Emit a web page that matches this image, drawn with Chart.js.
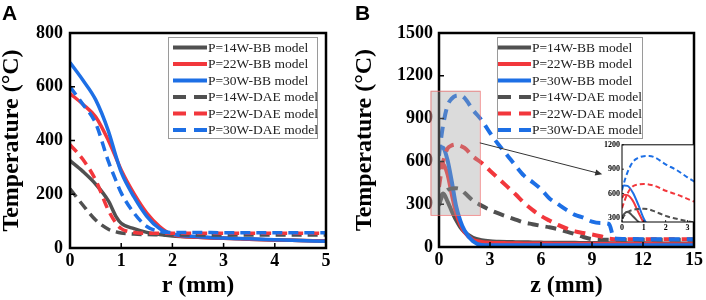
<!DOCTYPE html>
<html>
<head>
<meta charset="utf-8">
<script src="https://cdn.jsdelivr.net/npm/chart.js@4.4.1/dist/chart.umd.min.js"></script>
<style>
  body { margin: 0; background: #fff; width: 706px; height: 300px; position: relative; overflow: hidden; }
  canvas { position: absolute; }
  .tag { position: absolute; font: bold 21px 'Liberation Sans', Arial, sans-serif; line-height: 21px; color: #000; }
</style>
</head>
<body>
<canvas id="chartA" width="353" height="300" style="left:0;top:0"></canvas>
<canvas id="chartB" width="353" height="300" style="left:353px;top:0"></canvas>
<canvas id="inset" width="104" height="98" style="left:595px;top:138px"></canvas>
<div class="tag" style="left:2px;top:2px">A</div>
<div class="tag" style="left:355px;top:2px">B</div>
<script>
// ---- panel A: temperature vs r ----
const rA = [0, 0.25, 0.5, 0.75, 0.9, 1, 1.25, 1.5, 1.75, 2, 2.5, 3, 3.5, 4, 4.5, 5];
const a14BB = [325, 285, 238, 175, 117, 92, 72, 58, 50, 45, 40, 36, 33, 30, 28, 26];
const a22BB = [575, 535, 488, 400, 335, 290, 202, 130, 80, 50, 40, 36, 33, 30, 28, 26];
const a30BB = [690, 625, 552, 435, 340, 282, 190, 118, 72, 52, 42, 37, 34, 31, 28, 25];
const a14DAE = [220, 160, 104, 70, 60, 56, 52, 50, 49, 48, 48, 48, 48, 48, 48, 48];
const a22DAE = [385, 330, 253, 140, 92, 72, 58, 55, 55, 55, 55, 55, 55, 55, 55, 55];
const a30DAE = [600, 535, 465, 322, 250, 205, 130, 80, 62, 58, 58, 57, 57, 57, 57, 57];
const rTicks = [0, 1, 2, 3, 4, 5];
const tTicksA = [0, 200, 400, 600, 800];

// ---- panel B: temperature vs z ----
const zB = [0, 0.1, 0.25, 0.5, 0.75, 1, 1.25, 1.5, 2, 2.5, 3, 3.5, 4, 4.5, 5, 5.5, 6, 6.5, 7, 7.5, 8, 8.5, 9, 9.5, 10, 10.3, 11, 12, 13, 14, 15];
const b14BB = [310, 350, 375, 320, 252, 190, 140, 105, 65, 48, 40, 37, 35, 34, 33, 32, 31, 30, 30, 29, 29, 28, 28, 27, 27, 27, 26, 26, 25, 25, 25];
const b22BB = [545, 585, 580, 510, 370, 240, 160, 105, 50, 36, 30, 28, 27, 26, 25, 25, 24, 24, 23, 23, 23, 22, 22, 22, 22, 22, 21, 21, 20, 20, 20];
const b30BB = [690, 700, 695, 610, 460, 290, 185, 115, 40, 14, 12, 12, 12, 12, 12, 12, 12, 12, 12, 12, 12, 12, 12, 12, 12, 12, 12, 12, 12, 12, 12];
const b14DAE = [290, 330, 370, 400, 410, 412, 405, 380, 325, 290, 260, 235, 213, 192, 172, 160, 148, 138, 125, 108, 90, 70, 55, 50, 50, 50, 50, 50, 50, 50, 50];
const b22DAE = [420, 500, 600, 690, 712, 718, 710, 695, 635, 590, 535, 480, 425, 370, 310, 260, 218, 185, 155, 130, 110, 98, 88, 75, 58, 55, 55, 55, 55, 55, 55];
const b30DAE = [640, 740, 860, 990, 1040, 1060, 1062, 1045, 960, 890, 800, 718, 645, 570, 500, 455, 405, 340, 300, 260, 225, 205, 178, 168, 162, 60, 56, 55, 55, 55, 55];
const zTicks = [0, 3, 6, 9, 12, 15];
const tTicksB = [0, 300, 600, 900, 1200, 1500];

// inset
const zTicksIn = [0, 1, 2, 3];
const tTicksIn = [300, 600, 900, 1200];

// zoomed region marked in panel B, and arrow to the inset (data units)
const zoomBoxZ = [-0.5, 2.4];
const zoomBoxT = [225, 1095];
const arrowFrom = [2.4, 730];
const arrowTo = [9.6, 510];

const labels = ['P=14W-BB model', 'P=22W-BB model', 'P=30W-BB model',
                'P=14W-DAE model', 'P=22W-DAE model', 'P=30W-DAE model'];
const colors = ['#505050', '#f2373c', '#1d6fe5'];
const serif = "'Liberation Serif', 'Times New Roman', serif";

function makeSets(xs, series, lw, dash) {
  return series.map((vals, i) => ({
    label: labels[i],
    data: vals.map((v, j) => ({ x: xs[j], y: v })),
    borderColor: colors[i % 3],
    borderWidth: lw,
    borderDash: i < 3 ? [] : dash,
    borderCapStyle: 'butt',
    pointRadius: 0,
    fill: false,
    cubicInterpolationMode: 'monotone',
    order: 5 - i
  }));
}

function axis(opts) {
  return {
    type: 'linear',
    position: opts.pos,
    min: opts.min,
    max: opts.max,
    afterBuildTicks: s => { s.ticks = opts.ticks.map(v => ({ value: v })); },
    afterFit: s => { if (opts.pos === 'left') s.width = opts.fit; else s.height = opts.fit; },
    grid: { display: false, drawTicks: false },
    border: { display: false },
    ticks: {
      color: '#000', padding: opts.pad, maxRotation: 0, autoSkip: false,
      callback: v => String(v),
      font: { family: serif, size: opts.fs, weight: 'bold' }
    },
    title: opts.title ? {
      display: true, text: opts.title, color: '#000',
      font: { family: serif, size: 24, weight: 'bold', lineHeight: 1 },
      padding: opts.tpad
    } : { display: false }
  };
}

function framePlugin(lw, tlw, tickLen) {
  return {
    id: 'frame',
    afterDatasetsDraw(chart) {
      const { ctx, chartArea: a, scales: { x, y } } = chart;
      ctx.save();
      ctx.setLineDash([]);
      ctx.strokeStyle = '#000';
      ctx.lineWidth = tlw;
      ctx.beginPath();
      x.ticks.forEach(t => {
        const px = x.getPixelForValue(t.value);
        ctx.moveTo(px, a.bottom); ctx.lineTo(px, a.bottom - tickLen);
      });
      y.ticks.forEach(t => {
        const py = y.getPixelForValue(t.value);
        ctx.moveTo(a.left, py); ctx.lineTo(a.left + tickLen, py);
      });
      ctx.stroke();
      ctx.lineWidth = lw;
      ctx.strokeRect(a.left, a.top, a.right - a.left, a.bottom - a.top);
      ctx.restore();
    }
  };
}

function legendPlugin(box) {
  return {
    id: 'boxLegend',
    afterDraw(chart) {
      const ctx = chart.ctx;
      ctx.save();
      ctx.fillStyle = '#fff';
      ctx.fillRect(box.x, box.y, box.w, box.h);
      ctx.strokeStyle = '#9a9a9a';
      ctx.lineWidth = 1;
      ctx.strokeRect(box.x + 0.5, box.y + 0.5, box.w, box.h);
      ctx.font = `13.5px ${serif}`;
      ctx.textBaseline = 'middle';
      chart.data.datasets.forEach((ds, i) => {
        const yy = box.y + box.first + i * box.row;
        ctx.strokeStyle = ds.borderColor;
        ctx.lineWidth = 4;
        ctx.setLineDash(i < 3 ? [] : [13, 8]);
        ctx.beginPath();
        ctx.moveTo(box.x + box.s0, yy);
        ctx.lineTo(box.x + box.s1, yy);
        ctx.stroke();
        ctx.setLineDash([]);
        ctx.fillStyle = '#222';
        ctx.fillText(ds.label, box.x + box.s1 + 1, yy + 0.5);
      });
      ctx.restore();
    }
  };
}

const zoomMark = {
  id: 'zoomMark',
  afterDraw(chart) {
    const { ctx, scales: { x, y } } = chart;
    const x0 = x.getPixelForValue(zoomBoxZ[0]), x1 = x.getPixelForValue(zoomBoxZ[1]);
    const y0 = y.getPixelForValue(zoomBoxT[1]), y1 = y.getPixelForValue(zoomBoxT[0]);
    ctx.save();
    ctx.fillStyle = 'rgba(160,160,160,0.38)';
    ctx.fillRect(x0, y0, x1 - x0, y1 - y0);
    ctx.strokeStyle = 'rgba(235,110,110,0.75)';
    ctx.lineWidth = 1;
    ctx.strokeRect(x0 + 0.5, y0 + 0.5, x1 - x0, y1 - y0);
    // arrow
    const ax = x.getPixelForValue(arrowFrom[0]), ay = y.getPixelForValue(arrowFrom[1]);
    const bx = x.getPixelForValue(arrowTo[0]), by = y.getPixelForValue(arrowTo[1]);
    const ang = Math.atan2(by - ay, bx - ax);
    ctx.strokeStyle = '#333';
    ctx.fillStyle = '#333';
    ctx.beginPath();
    ctx.moveTo(ax, ay);
    ctx.lineTo(bx - 5 * Math.cos(ang), by - 5 * Math.sin(ang));
    ctx.stroke();
    ctx.beginPath();
    ctx.moveTo(bx, by);
    ctx.lineTo(bx - 7 * Math.cos(ang) + 3 * Math.sin(ang), by - 7 * Math.sin(ang) - 3 * Math.cos(ang));
    ctx.lineTo(bx - 7 * Math.cos(ang) - 3 * Math.sin(ang), by - 7 * Math.sin(ang) + 3 * Math.cos(ang));
    ctx.closePath();
    ctx.fill();
    ctx.restore();
  }
};

const whiteArea = {
  id: 'whiteArea',
  beforeDatasetsDraw(chart) {
    const { ctx, chartArea: a } = chart;
    ctx.save();
    ctx.fillStyle = '#fff';
    ctx.fillRect(a.left, a.top, a.right - a.left, a.bottom - a.top);
    ctx.restore();
  }
};

const base = { responsive: false, animation: false, events: [],
  plugins: { legend: { display: false }, tooltip: { enabled: false } } };

new Chart(document.getElementById('chartA'), {
  type: 'line',
  data: { datasets: makeSets(rA, [a14BB, a22BB, a30BB, a14DAE, a22DAE, a30DAE], 3.5, [10, 6]) },
  options: {
    ...base,
    layout: { padding: { top: 33, right: 27, left: 0, bottom: 0 } },
    scales: {
      x: axis({ pos: 'bottom', min: 0, max: 5, ticks: rTicks, fit: 52, pad: 3, fs: 18, title: 'r (mm)', tpad: { top: 0, bottom: 2 } }),
      y: axis({ pos: 'left', min: 0, max: 800, ticks: tTicksA, fit: 70, pad: 7, fs: 18, title: 'Temperature (°C)', tpad: { top: 0, bottom: 0 } })
    }
  },
  plugins: [framePlugin(2.5, 1.5, 5), legendPlugin({ x: 168, y: 37, w: 149, h: 101, first: 10.5, row: 16.5, s0: 5, s1: 39 })]
});

new Chart(document.getElementById('chartB'), {
  type: 'line',
  data: { datasets: makeSets(zB, [b14BB, b22BB, b30BB, b14DAE, b22DAE, b30DAE], 4, [11, 7]) },
  options: {
    ...base,
    layout: { padding: { top: 33, right: 10, left: 0, bottom: 0 } },
    scales: {
      x: axis({ pos: 'bottom', min: 0, max: 15, ticks: zTicks, fit: 53, pad: 3, fs: 18, title: 'z (mm)', tpad: { top: 0, bottom: 2 } }),
      y: axis({ pos: 'left', min: 0, max: 1500, ticks: tTicksB, fit: 86, pad: 6, fs: 18, title: 'Temperature (°C)', tpad: { top: 0, bottom: 0 } })
    }
  },
  plugins: [framePlugin(2.5, 1.5, 5), legendPlugin({ x: 144, y: 37, w: 145, h: 101, first: 10.5, row: 16.5, s0: 1, s1: 34 }), zoomMark]
});

const insetSets = makeSets(zB, [b14BB, b22BB, b30BB, b14DAE, b22DAE, b30DAE], 2, [5, 3]);
insetSets.forEach(d => { d.clip = 0; });
new Chart(document.getElementById('inset'), {
  type: 'line',
  data: { datasets: insetSets },
  options: {
    ...base,
    layout: { padding: { top: 6, right: 5, left: 0, bottom: 0 } },
    scales: {
      x: axis({ pos: 'bottom', min: 0, max: 3.3, ticks: zTicksIn, fit: 14, pad: 1, fs: 8 }),
      y: axis({ pos: 'left', min: 250, max: 1200, ticks: tTicksIn, fit: 27, pad: 2, fs: 8 })
    }
  },
  plugins: [whiteArea, framePlugin(1, 0.8, 2)]
});
</script>
</body>
</html>
